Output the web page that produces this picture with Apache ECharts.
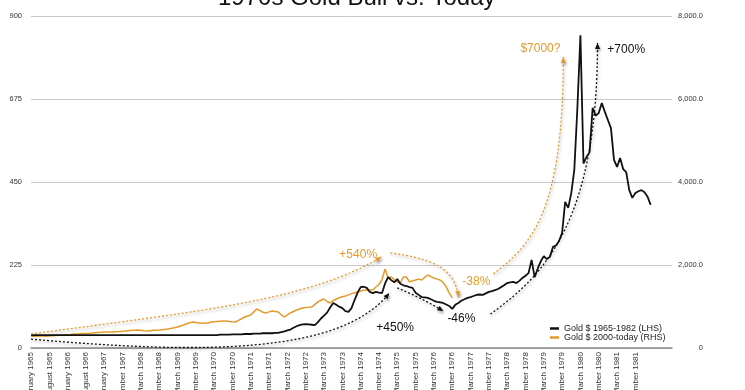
<!DOCTYPE html>
<html><head><meta charset="utf-8">
<script src="https://cdn.jsdelivr.net/npm/echarts@6/dist/echarts.min.js"></script>
<style>html,body{margin:0;padding:0;background:#fff}#c{width:745px;height:390px}</style>
</head><body><div id="c"></div>
<script>
// ---- data ----
const tickLabels = [
 'February 1965','August 1965','February 1966','August 1966','February 1967',
 'September 1967','March 1968','September 1968','March 1969','September 1969',
 'March 1970','September 1970','March 1971','September 1971','March 1972',
 'September 1972','March 1973','September 1973','March 1974','September 1974',
 'March 1975','September 1975','March 1976','September 1976','March 1977',
 'September 1977','March 1978','September 1978','March 1979','September 1979',
 'March 1980','September 1980','March 1981','September 1981'
];
const categoryCount = 211;
const labelStep = 6;

const gold1965 = [
 35,35,35,35,35,35,35,35,35,35,35,35,35,35,35,35,35,35,35,35,35,35,35,35,35,35,35,35,35,35,35,35,35,35,35,35,35,
 35,35,35,35,35,35,35,35,35,35,35,35,35,35,35,35,35,35,35,35,35,35,
 35,35,35,36,36,36,36,37,37,37,37,38,38,38,39,39,39,40,40,
 40,40,41,41,43,45,48,50,55,59,62,64,65,64,63,62,70,80,88,96,110,
 122,117,112,108,100,98,108,130,150,165,166,163,152,149,152,150,149,175,
 192,184,178,187,174,170,168,165,163,150,144,138,137,136,132,128,125,124,122,118,114,106,
 117,122,128,132,136,138,141,144,145,144,148,152,154,157,160,165,
 170,176,178,179,176,182,190,196,
 203,239,192,215,235,249,241,247,274,278,290,312,396,380,420,483,650,848,
 500,518,531,651,630,637,664,640,618,596,510,491,515,485,477,428,407,420,425,428,422,410,388
];
const gold2000 = [
 289,285,292,290,288,
 286,290,295,300,305,310,
 313,320,328,337,
 340,345,350,352,356,361,
 368,375,380,386,
 384,388,386,392,
 398,405,410,
 418,425,430,434,
 425,415,410,
 418,425,430,434,
 442,450,458,
 475,490,506,
 530,554,585,
 610,627,
 615,603,
 598,605,603,
 627,635,640,
 645,648,651,
 640,632,627,
 665,705,747,
 770,795,
 870,940,
 900,860,844,
 870,892,
 880,868,
 800,747,
 800,844,
 880,915,940,964,
 975,980,988,
 1050,1110,1150,1181,
 1120,1085,
 1140,1181,
 1210,1235,1253,
 1280,1310,1330,1350,
 1375,1390,1398,
 1400,1398,
 1470,
 1530,1650,1904,1690,1711,
 1650,1591,1567,
 1711,1711,1591,
 1620,1639,1660,1639,
 1700,1759,1720,1687,
 1660,1639,
 1580,1480,1330,1205
];
const seriesNames = ['Gold $ 1965-1982 (LHS)', 'Gold $ 2000-today (RHS)'];

// annotation curves in data coords [categoryIndex, LHS value]: start, ctrl1, ctrl2, end
const annoCurves = [
 {color:'orange', pts:[[0,38],[55.4,100],[91.5,130],[114.8,247]]},
 {color:'orange', pts:[[117.7,258],[129.2,244],[139,225],[140,138]]},
 {color:'black',  pts:[[0,24],[55.4,-16],[101.3,-19],[117.4,149]]},
 {color:'black',  pts:[[120,163],[124.9,146],[130.2,125],[135.1,100]]},
 {color:'black',  pts:[[150.5,92],[168.5,198],[185.6,347],[185.6,827]]},
 {color:'orange', pts:[[151.5,201],[163.6,279],[174.4,361],[174.4,789]]}
];
const annoTexts = [
 {text:'+540%', color:'orange', at:[107.2,252]},
 {text:'-38%', color:'orange', at:[145.9,179]},
 {text:'+450%', color:'black', at:[119.3,54]},
 {text:'-46%', color:'black', at:[141,79]},
 {text:'+700%', color:'black', at:[195,808]},
 {text:'$7000?', color:'orange', at:[166.9,811]}
];

// ---- chart ----
const COL = {black:'#111111', orange:'#e39a2c'};
const FONT = 'Liberation Sans, Arial, Helvetica, sans-serif';
const categories = [];
for (let i = 0; i < categoryCount; i++) categories.push('m' + i);

const chart = echarts.init(document.getElementById('c'), null, {renderer:'canvas'});
chart.setOption({
  animation:false,
  textStyle:{fontFamily:FONT},
  title:{text:'1970s Gold Bull vs. Today', left:213, top:-19,
    textStyle:{fontSize:24, fontWeight:'normal', color:'#111', fontFamily:FONT}},
  grid:{left:31, right:73, top:16, bottom:42, containLabel:false, outerBoundsMode:'none'},
  legend:{orient:'vertical', left:545, top:319, itemWidth:9, itemHeight:2.5, itemGap:0,
    icon:'rect', textStyle:{fontSize:9, color:'#222'},
    data:seriesNames},
  xAxis:{type:'category', data:categories, boundaryGap:false,
    axisLine:{lineStyle:{color:'#8a8a8a', width:1.5}},
    axisTick:{show:false},
    axisLabel:{rotate:90, fontSize:8, color:'#333', margin:4, hideOverlap:false,
      interval:(idx)=> idx % labelStep === 0 && idx / labelStep < tickLabels.length,
      formatter:(v, idx)=> tickLabels[idx / labelStep] || ''}},
  yAxis:[
    {type:'value', min:0, max:900, interval:225,
     axisLine:{show:false}, axisTick:{show:false},
     splitLine:{lineStyle:{color:'#c8c8c8', width:1}},
     axisLabel:{fontSize:7.5, color:'#333', margin:9}},
    {type:'value', min:0, max:8000, interval:2000, position:'right',
     axisLine:{show:false}, axisTick:{show:false}, splitLine:{show:false},
     axisLabel:{fontSize:7.5, color:'#333', margin:31, align:'right',
       formatter:(v)=> v === 0 ? '0' : v.toLocaleString('en-US',{minimumFractionDigits:1, maximumFractionDigits:1})}}
  ],
  series:[
    {name:seriesNames[1], type:'line', yAxisIndex:1, data:gold2000, symbol:'none',
     lineStyle:{color:COL.orange, width:1.5}, itemStyle:{color:COL.orange}, z:2},
    {name:seriesNames[0], type:'line', yAxisIndex:0, data:gold1965, symbol:'none',
     lineStyle:{color:COL.black, width:1.8}, itemStyle:{color:COL.black}, z:3}
  ]
});

// annotations placed through the chart's own scales
function toPx(i, v) {
  const a = chart.convertToPixel({xAxisIndex:0, yAxisIndex:0}, [0, v]);
  const b = chart.convertToPixel({xAxisIndex:0, yAxisIndex:0}, [categoryCount - 1, v]);
  return [a[0] + (b[0] - a[0]) * i / (categoryCount - 1), a[1]];
}
const shadow = {shadowBlur:3, shadowColor:'rgba(0,0,0,0.35)', shadowOffsetX:1, shadowOffsetY:2};
const graphics = [];
annoCurves.forEach(c => {
  const p = c.pts.map(q => toPx(q[0], q[1]));
  const col = COL[c.color];
  graphics.push({type:'bezierCurve', silent:true, z:10,
    shape:{x1:p[0][0], y1:p[0][1], cpx1:p[1][0], cpy1:p[1][1], cpx2:p[2][0], cpy2:p[2][1], x2:p[3][0], y2:p[3][1]},
    style:Object.assign({stroke:col, lineWidth:1.3, lineDash:[2,2], fill:null}, shadow)});
  let dx = p[3][0] - p[2][0], dy = p[3][1] - p[2][1];
  const L = Math.hypot(dx, dy) || 1; dx /= L; dy /= L;
  const tip = p[3], bx = tip[0] - dx * 6, by = tip[1] - dy * 6, nx = -dy, ny = dx;
  graphics.push({type:'polygon', silent:true, z:11,
    shape:{points:[[tip[0], tip[1]], [bx + nx * 2.6, by + ny * 2.6], [bx - nx * 2.6, by - ny * 2.6]]},
    style:Object.assign({fill:col}, shadow)});
});
annoTexts.forEach(t => {
  const p = toPx(t.at[0], t.at[1]);
  graphics.push({type:'text', silent:true, z:12, x:p[0], y:p[1],
    style:{text:t.text, fill:COL[t.color], font:'12px ' + FONT, textAlign:'center', textVerticalAlign:'middle'}});
});
chart.setOption({graphic:graphics});
</script>
</body></html>
